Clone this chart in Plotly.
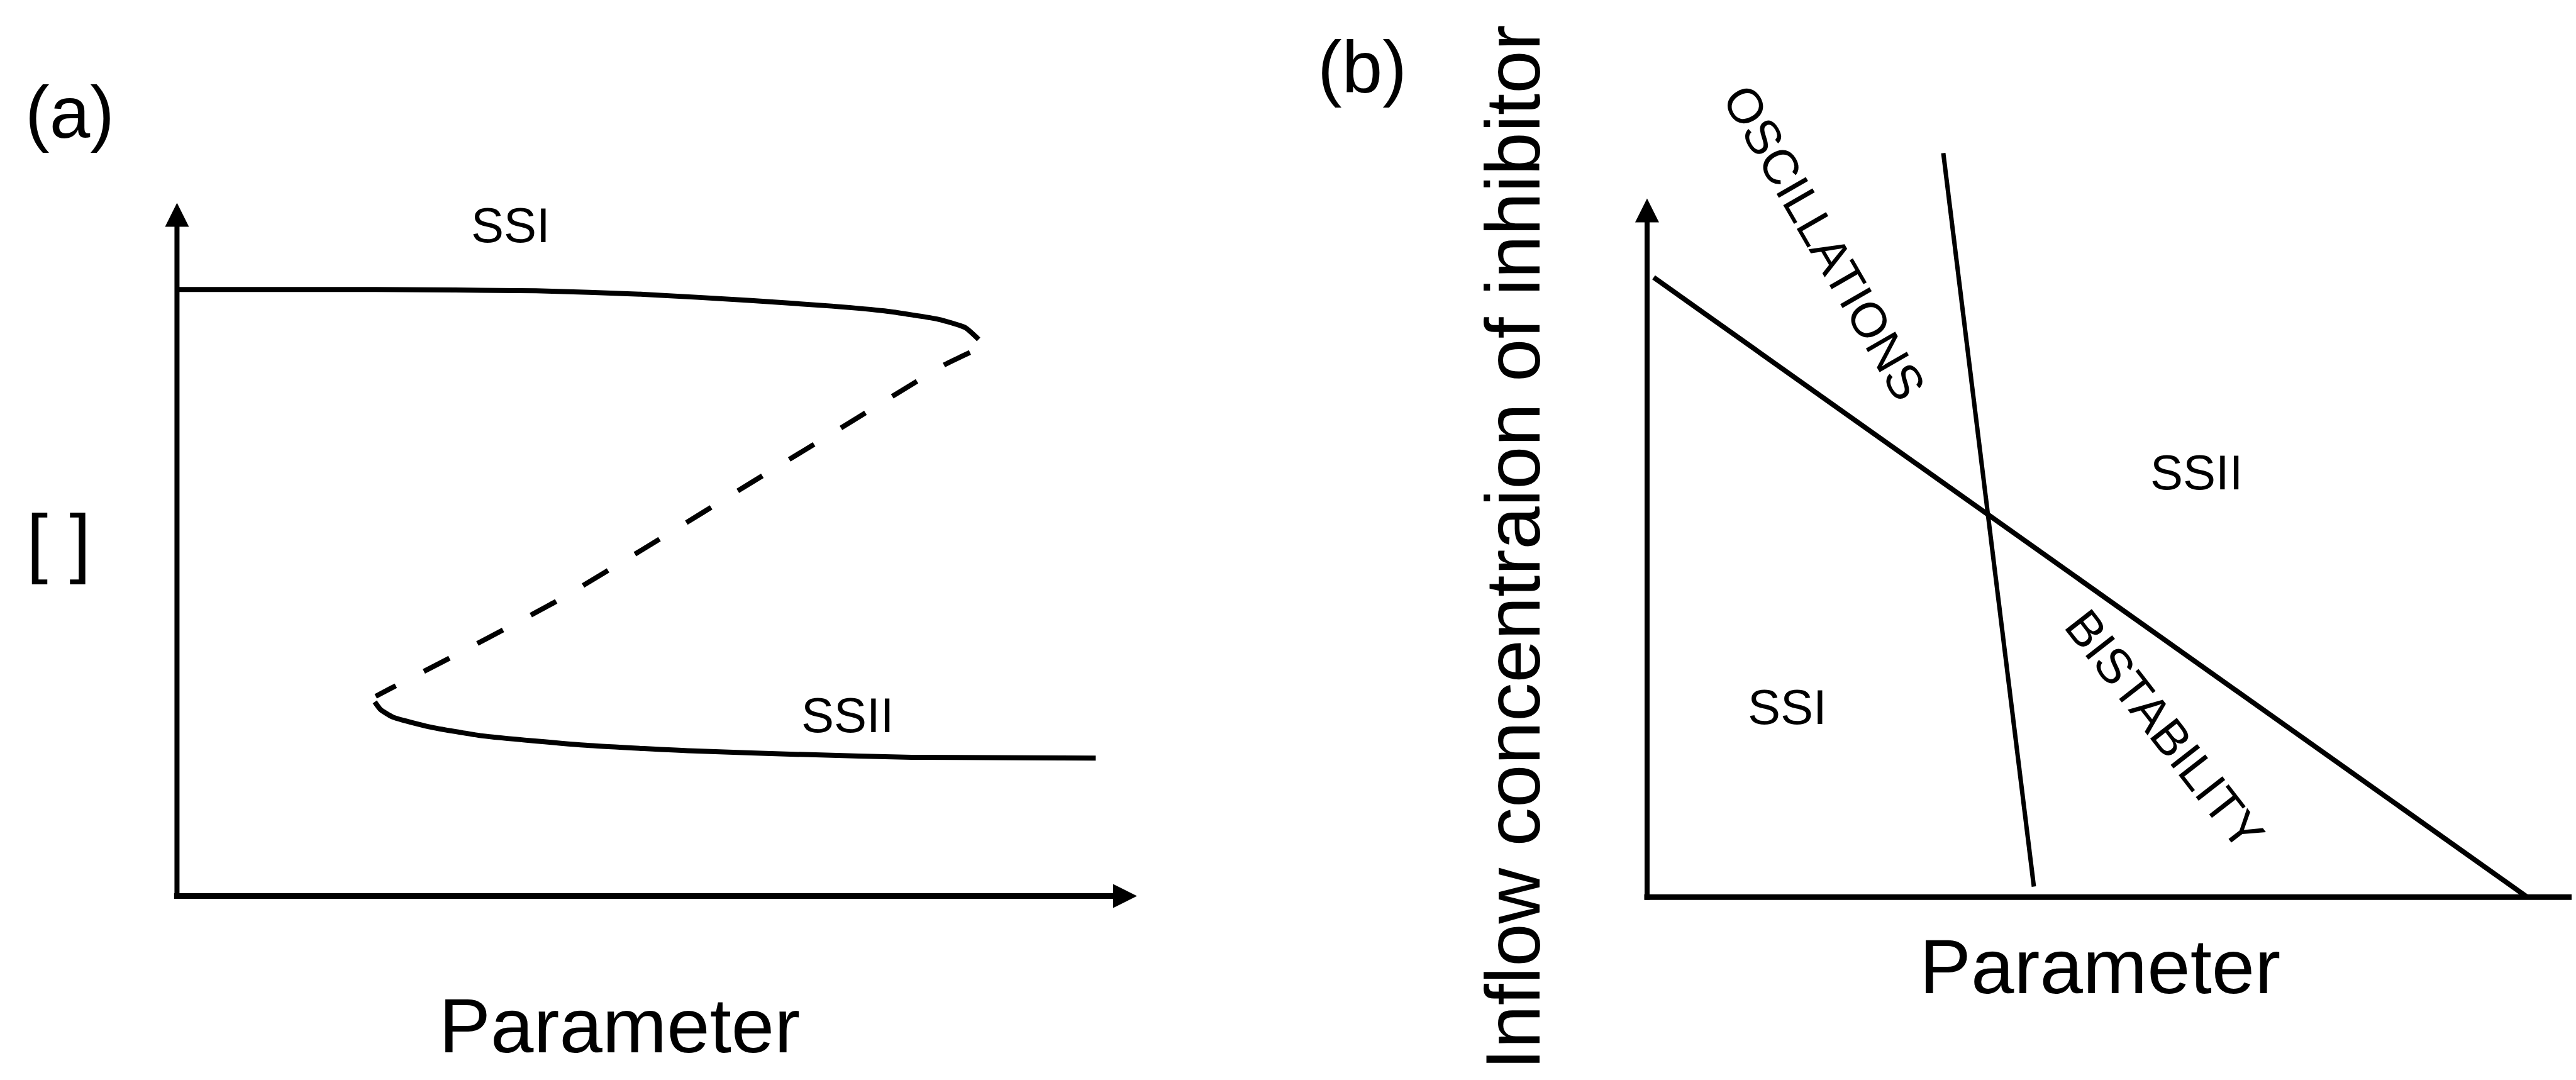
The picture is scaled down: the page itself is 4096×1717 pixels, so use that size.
import plotly.graph_objects as go

# ---------------- reference geometry (layout only) ----------------
W_REF, H_REF = 4803, 2013
W, H = 4096, 1717

# panel (a): origin pixel and unit size (reference pixels)
A_X0, A_Y0, A_XU, A_YU = 330, 1670, 179.0, 129.2
# panel (b)
B_X0, B_Y0, B_XU, B_YU = 3071, 1672, 175.9, 130.2
SPLIT = W_REF / 2

# ---------------- data ----------------
# Panel (a): S-shaped bifurcation diagram (arbitrary units)
ssi_x = [0.00, 2.07, 3.74, 4.86, 5.98, 6.82, 7.37, 7.93, 8.21, 8.35]
ssi_y = [8.75, 8.75, 8.73, 8.68, 8.59, 8.51, 8.44, 8.32, 8.20, 8.03]

unstable_x = [8.26, 7.99, 7.02, 5.99, 4.97, 3.95, 2.81, 2.22, 2.07]
unstable_y = [7.84, 7.66, 6.84, 5.97, 5.10, 4.25, 3.41, 2.99, 2.88]

ssii_x = [2.06, 2.12, 2.25, 2.63, 3.18, 4.30, 5.42, 6.54, 7.65, 9.57]
ssii_y = [2.80, 2.69, 2.58, 2.44, 2.31, 2.17, 2.09, 2.04, 2.00, 1.99]

# Panel (b): phase diagram boundaries (arbitrary units)
bistab_x = [0.07, 9.33]
bistab_y = [8.87, 0.00]
osc_x = [3.14, 4.10]
osc_y = [10.65, 0.15]

AXIS_LEN = 10.0

# ---------------- figure ----------------
fig = go.Figure()


def curve(x, y, xa, ya, width, dash="solid", shape="linear", smoothing=0.0):
    ln = dict(color="black", width=width, dash=dash, shape=shape)
    if shape == "spline":
        ln["smoothing"] = smoothing
    fig.add_trace(go.Scatter(x=x, y=y, mode="lines", xaxis=xa, yaxis=ya, line=ln,
                             hoverinfo="skip", showlegend=False, cliponaxis=False))


curve(ssi_x, ssi_y, "x", "y", 8, shape="spline", smoothing=0.5)
curve(unstable_x, unstable_y, "x", "y", 8, dash="46px,50px", shape="spline", smoothing=0.5)
curve(ssii_x, ssii_y, "x", "y", 8, shape="spline", smoothing=0.5)

curve(bistab_x, bistab_y, "x2", "y2", 8)
curve(osc_x, osc_y, "x2", "y2", 7)

# axes with arrowheads
HEAD = 38
for xa, ya in (("x", "y"), ("x2", "y2")):
    curve([-0.03, AXIS_LEN - 0.2], [0, 0], xa, ya, 9)
    curve([0, 0], [-0.04, AXIS_LEN - 0.25], xa, ya, 8)
    fig.add_trace(go.Scatter(x=[AXIS_LEN, 0], y=[0, AXIS_LEN], mode="markers",
                             xaxis=xa, yaxis=ya, cliponaxis=False,
                             marker=dict(symbol=["arrow-right", "arrow-up"], size=HEAD,
                                         color="black", line=dict(width=0)),
                             hoverinfo="skip", showlegend=False))

FONT = "Liberation Sans, Arial, Helvetica, sans-serif"


def label(text, px, py, size, angle=0):
    return dict(x=px / W_REF, y=1 - py / H_REF, xref="paper", yref="paper",
                text=text, showarrow=False, textangle=angle,
                xanchor="center", yanchor="middle",
                font=dict(family=FONT, size=size, color="black"))


TITLE = 123
PANEL = 116
REGION = 78

annotations = [
    label("(a)", 130, 210, PANEL),
    label("(b)", 2540, 125, PANEL),
    label("[ ]", 110, 1010, TITLE),
    label("Parameter", 1155, 1912, TITLE),
    label("Parameter", 3915, 1801, TITLE),
    label("Inflow concentraion of inhibitor", 2820, 1020, TITLE, -90),
    label("SSI", 952, 420, REGION),
    label("SSII", 1580, 1333, REGION),
    label("OSCILLATIONS", 3402, 452, REGION, 60),
    label("BISTABILITY", 4036, 1360, REGION, 52),
    label("SSII", 4095, 880, REGION),
    label("SSI", 3332, 1318, REGION),
]

hidden = dict(visible=False, showgrid=False, zeroline=False, fixedrange=True)

fig.update_layout(
    width=W, height=H,
    margin=dict(l=0, r=0, t=0, b=0),
    paper_bgcolor="white", plot_bgcolor="white",
    showlegend=False,
    xaxis=dict(domain=[0, 0.5], range=[(0 - A_X0) / A_XU, (SPLIT - A_X0) / A_XU], **hidden),
    yaxis=dict(domain=[0, 1], range=[(A_Y0 - H_REF) / A_YU, A_Y0 / A_YU], **hidden),
    xaxis2=dict(domain=[0.5, 1], range=[(SPLIT - B_X0) / B_XU, (W_REF - B_X0) / B_XU], anchor="y2", **hidden),
    yaxis2=dict(domain=[0, 1], range=[(B_Y0 - H_REF) / B_YU, B_Y0 / B_YU], anchor="x2", **hidden),
    annotations=annotations,
)

fig.write_html("out.html")
